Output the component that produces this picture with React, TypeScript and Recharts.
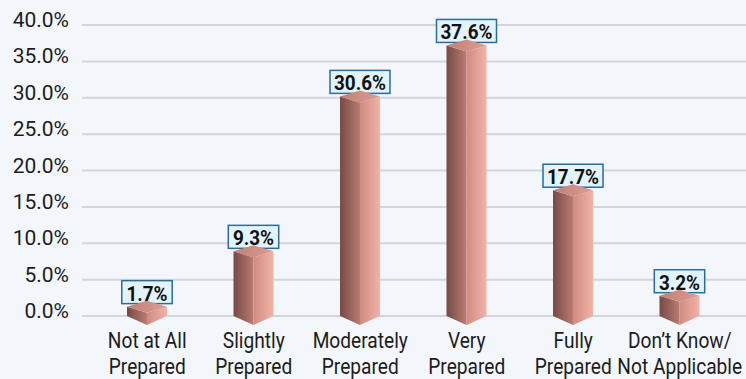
import React from "react"
import { BarChart, Bar, XAxis, YAxis, CartesianGrid } from "recharts"

const categories = [
  "Not at All\nPrepared",
  "Slightly\nPrepared",
  "Moderately\nPrepared",
  "Very\nPrepared",
  "Fully\nPrepared",
  "Don’t Know/\nNot Applicable",
]
const shares = [1.7, 9.3, 30.6, 37.6, 17.7, 3.2]
const yTicks = [0, 5, 10, 15, 20, 25, 30, 35, 40]

const data = categories.map((name, i) => ({ name, value: shares[i] }))

const YTick = (props: any) => {
  const { x, y, payload } = props
  return (
    <text x={x} y={y + 2} textAnchor="end" fontSize={21} fill="#1c1c1c" fontFamily="Roboto">
      {`${payload.value.toFixed(1)}%`}
    </text>
  )
}

const XTick = (props: any) => {
  const { x, y, payload } = props
  const lines = String(payload.value).split("\n")
  return (
    <g>
      {lines.map((line, i) => (
        <text
          key={i}
          transform={`translate(${x},${y + 32 + i * 26}) scale(0.87,1)`}
          textAnchor="middle"
          fontSize={22}
          fill="#1c1c1c"
          fontFamily="Roboto"
        >
          {line}
        </text>
      ))}
    </g>
  )
}

// 3d pillar: two faces meeting at a front edge, diamond top, label box above
const Prism = (props: any) => {
  const { x, y, width, height, payload } = props
  const cx = x + width / 2
  const base = y + height
  const d = 6
  const top = y - 3
  const label = `${payload.value.toFixed(1)}%`
  const boxW = label.length * 9.6 + 12
  return (
    <g>
      <rect
        x={cx - boxW / 2}
        y={y - 23}
        width={boxW}
        height={23}
        fill="#e2f3fb"
        stroke="#2d6b99"
        strokeWidth={1.5}
      />
      <text
        transform={`translate(${cx},${y - 3}) scale(0.9,1)`}
        textAnchor="middle"
        fontSize={21}
        fontWeight="bold"
        fill="#111"
        fontFamily="Roboto"
      >
        {label}
      </text>
      <polygon
        points={`${x},${top + d} ${cx},${top + 2 * d} ${cx},${base + 9} ${x},${base}`}
        fill="url(#leftFace)"
      />
      <polygon
        points={`${cx},${top + 2 * d} ${x + width},${top + d} ${x + width},${base} ${cx},${base + 9}`}
        fill="url(#rightFace)"
      />
      <polygon
        points={`${cx},${top} ${x + width},${top + d} ${cx},${top + 2 * d} ${x},${top + d}`}
        fill="url(#topFace)"
      />
    </g>
  )
}

export default function App() {
  return (
    <div
      style={{
        position: "absolute",
        left: 0,
        top: 0,
        width: 746,
        height: 379,
        background: "#f3f7fb",
      }}
    >
      <BarChart
        width={746}
        height={379}
        data={data}
        margin={{ top: 25, right: 0, left: 0, bottom: 0 }}
      >
        <defs>
          <linearGradient id="leftFace" x1="0" y1="0" x2="1" y2="0">
            <stop offset="0%" stopColor="#774a45" />
            <stop offset="100%" stopColor="#b87c72" />
          </linearGradient>
          <linearGradient id="rightFace" x1="0" y1="0" x2="1" y2="0">
            <stop offset="0%" stopColor="#d18b80" />
            <stop offset="100%" stopColor="#f1b3a9" />
          </linearGradient>
          <linearGradient id="topFace" x1="0" y1="0" x2="1" y2="0">
            <stop offset="0%" stopColor="#c27f74" />
            <stop offset="100%" stopColor="#dc9d92" />
          </linearGradient>
        </defs>
        <CartesianGrid vertical={false} stroke="#d3d6d9" strokeWidth={2} />
        <XAxis
          dataKey="name"
          tick={<XTick />}
          tickLine={false}
          axisLine={false}
          tickSize={0}
          tickMargin={0}
          height={63}
          interval={0}
          padding={{ left: 12, right: 13 }}
        />
        <YAxis
          domain={[0, 40]}
          ticks={yTicks}
          tick={<YTick />}
          tickLine={false}
          axisLine={false}
          tickSize={13}
          tickMargin={0}
          width={82}
        />
        <Bar dataKey="value" barSize={40} shape={<Prism />} isAnimationActive={false} />
      </BarChart>
    </div>
  )
}
